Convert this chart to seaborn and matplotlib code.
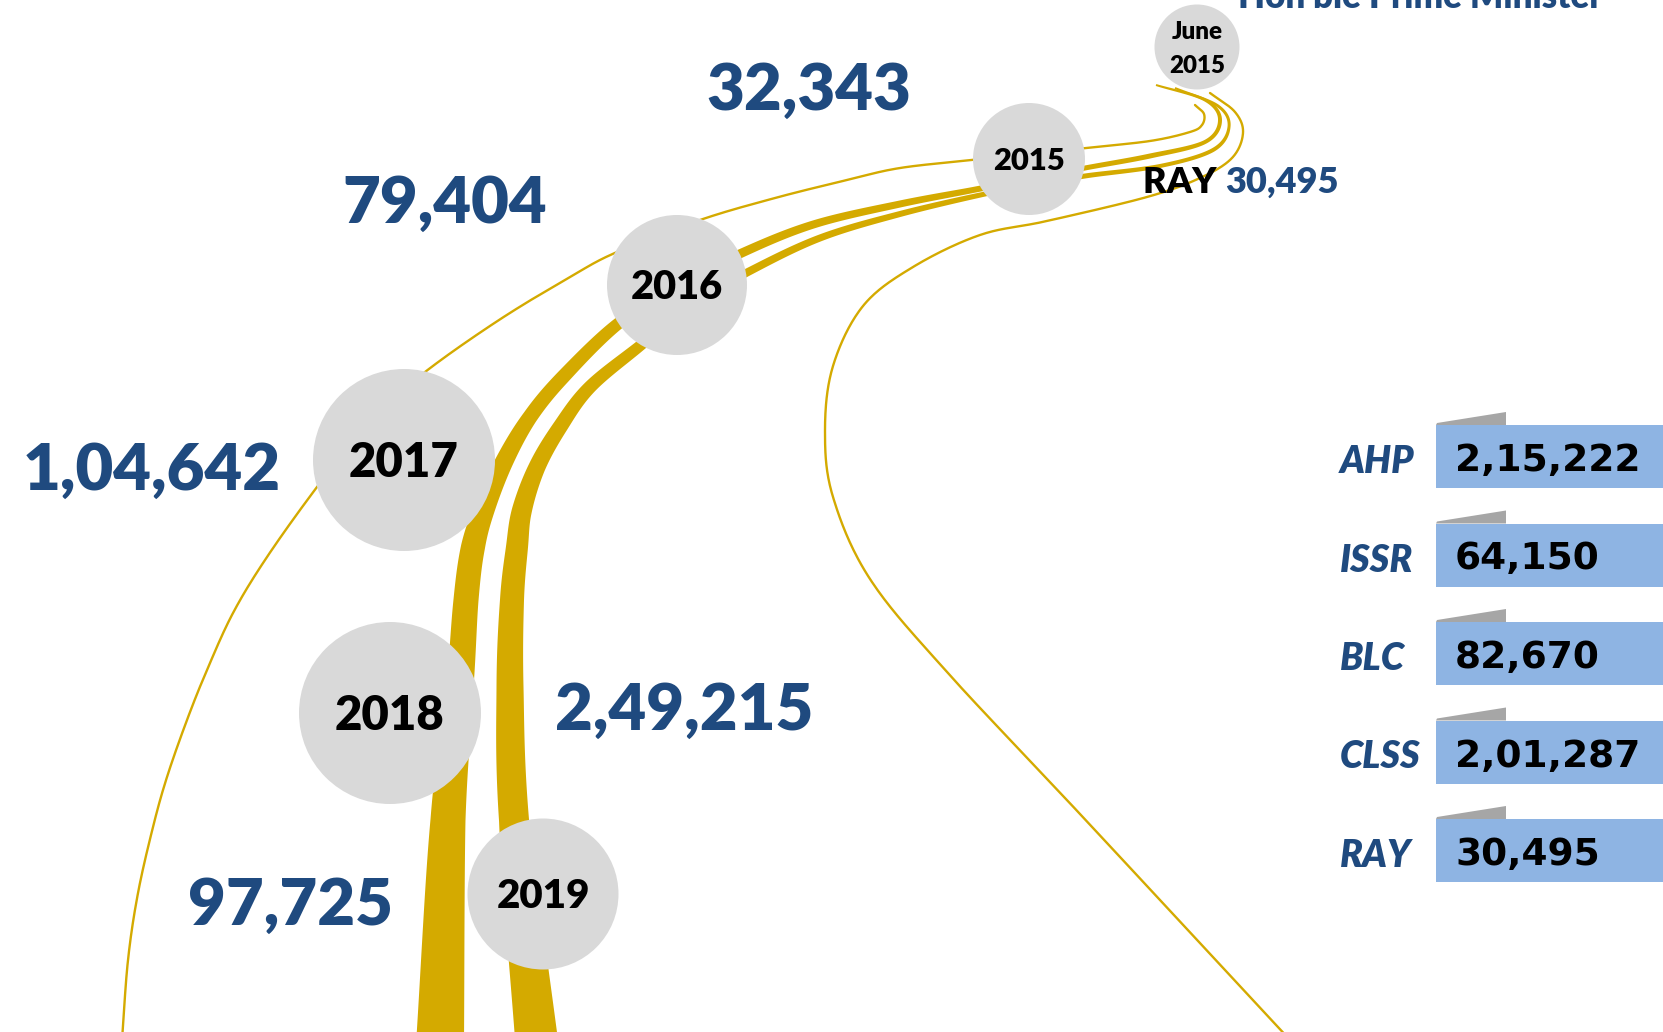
import numpy as np
import pandas as pd
import matplotlib
matplotlib.use("Agg")
import matplotlib.pyplot as plt
import seaborn as sns

years = ["June\n2015", "2015", "2016", "2017", "2018", "2019"]
year_values = [None, 32343, 79404, 104642, 249215, 97725]
schemes = ["AHP", "ISSR", "BLC", "CLSS", "RAY"]
scheme_values = [215222, 64150, 82670, 201287, 30495]
ray_start = 30495
title = "Hon'ble Prime Minister"

# ---- layout (pixel space of a 1663x1032 canvas) ----
circle_x = [1197, 1029, 677, 404, 390, 543]
circle_y = [47, 159, 285, 460, 713, 894]
circle_r = [42.5, 56, 70, 91, 91, 75.5]
year_fs = [17.4, 22.3, 28.6, 34, 34, 29]
value_x = [None, 809, 445, 152, 684, 290]
value_base = [None, 110, 223, 490, 730, 925]

BLUE = "#1F4A7F"
GOLD = "#D4AA00"
CIRCLE = "#D9D9D9"
BOX = "#8EB4E3"
TAB = "#A6A6A6"
WEIGHT = "heavy"

# road guide lines (decorative)
band1 = [(1156, 85), (1205, 100), (1220, 120), (1205, 142), (1150, 156), (1085, 168),
         (1029, 179), (973, 190), (900, 204), (815, 224), (744, 252), (680, 285),
         (619, 323), (563, 377), (530, 417), (505, 460), (485, 507), (473, 547),
         (466, 600), (460, 687), (448, 820), (440, 1045)]
band1_w = [2, 3, 4, 4, 5, 5, 6, 6, 7, 8, 9, 10, 12, 14, 15, 18, 21, 24, 25, 27, 35, 48]
band2 = [(1175, 88), (1218, 106), (1229, 127), (1213, 150), (1160, 166), (1085, 176),
         (1035, 185), (985, 194), (900, 214), (820, 238), (748, 272), (690, 305),
         (641, 345), (590, 387), (560, 427), (537, 467), (522, 510), (517, 547),
         (512, 600), (510, 687), (514, 820), (537, 1045)]
band2_w = [2, 3, 3, 4, 4, 5, 5, 5, 6, 7, 8, 10, 11, 13, 15, 17, 20, 22, 24, 27, 30, 43]
line1 = [(1195, 105), (1204, 114), (1202, 125), (1190, 132), (1150, 141), (1085, 148),
         (1029, 154), (972, 160), (900, 168), (847, 180), (775, 198), (700, 220),
         (617, 252), (570, 277), (499, 320), (425, 372), (370, 420), (317, 487),
         (267, 557), (233, 613), (207, 670), (187, 720), (167, 777), (153, 827),
         (138, 893), (128, 960), (122, 1040)]
line2 = [(1210, 93), (1235, 112), (1243, 133), (1232, 158), (1200, 178), (1147, 197),
         (1047, 221), (980, 235), (913, 267), (863, 306), (833, 366), (825, 431),
         (833, 497), (870, 579), (947, 672), (1080, 814), (1290, 1040)]


def indian(n):
    s = str(n)
    if len(s) <= 3:
        return s
    head, tail = s[:-3], s[-3:]
    parts = []
    while len(head) > 2:
        parts.insert(0, head[-2:])
        head = head[:-2]
    if head:
        parts.insert(0, head)
    return ",".join(parts + [tail])


def spline(pts, widths=None, n=30):
    P = np.array(pts, float)
    P = np.vstack([2 * P[0] - P[1], P, 2 * P[-1] - P[-2]])
    t = np.linspace(0, 1, n, endpoint=False)[:, None]
    out, ws = [], []
    for i in range(1, len(P) - 2):
        p0, p1, p2, p3 = P[i - 1], P[i], P[i + 1], P[i + 2]
        seg = 0.5 * (2 * p1 + (-p0 + p2) * t + (2 * p0 - 5 * p1 + 4 * p2 - p3) * t ** 2
                     + (-p0 + 3 * p1 - 3 * p2 + p3) * t ** 3)
        out.append(seg)
        if widths is not None:
            ws.append(np.linspace(widths[i - 1], widths[i], n, endpoint=False))
    out.append(P[-2][None, :])
    if widths is not None:
        ws.append([widths[-1]])
        return np.vstack(out), np.concatenate(ws)
    return np.vstack(out)


def band_polygon(pts, widths):
    c, w = spline(pts, widths)
    d = np.gradient(c, axis=0)
    nrm = np.stack([-d[:, 1], d[:, 0]], axis=1)
    nrm /= np.linalg.norm(nrm, axis=1)[:, None]
    left = c + nrm * w[:, None] / 2
    right = c - nrm * w[:, None] / 2
    return np.vstack([left, right[::-1]])


sns.set_theme(style="white")
plt.rcParams["font.family"] = ["Lato", "DejaVu Sans"]

fig = plt.figure(figsize=(16.63, 10.32), dpi=100, facecolor="white")
ax = fig.add_axes([0, 0, 1, 1])

px2pt = 72 / 100

# roads
for pts, w in [(band1, band1_w), (band2, band2_w)]:
    poly = band_polygon(pts, w)
    ax.fill(poly[:, 0], poly[:, 1], color=GOLD, lw=0, zorder=1)
for pts in [line1, line2]:
    c = spline(pts)
    sns.lineplot(x=c[:, 0], y=c[:, 1], sort=False, estimator=None, color=GOLD,
                 linewidth=1.7, ax=ax, zorder=1)

# year circles
circ = pd.DataFrame({"x": circle_x, "y": circle_y, "r": circle_r})
sns.scatterplot(data=circ, x="x", y="y", s=(2 * circ["r"] * px2pt) ** 2,
                color=CIRCLE, linewidth=0, ax=ax, zorder=3, legend=False)

for i, yr in enumerate(years):
    fs = year_fs[i]
    em = fs / px2pt
    if "\n" in yr:
        a, b = yr.split("\n")
        ax.text(circle_x[i], circle_y[i] - 0.32 * em, a, ha="center", va="baseline",
                fontsize=fs, fontweight=WEIGHT, color="black", zorder=4)
        ax.text(circle_x[i], circle_y[i] + 1.08 * em, b, ha="center", va="baseline",
                fontsize=fs, fontweight=WEIGHT, color="black", zorder=4)
    else:
        ax.text(circle_x[i], circle_y[i] + 0.36 * em, yr, ha="center", va="baseline",
                fontsize=fs, fontweight=WEIGHT, color="black", zorder=4)
    if year_values[i] is not None:
        ax.text(value_x[i], value_base[i], indian(year_values[i]), ha="center",
                va="baseline", fontsize=47, fontweight=WEIGHT, color=BLUE, zorder=4)

# RAY start label
t = ax.text(1143, 193, "RAY ", ha="left", va="baseline", fontsize=26,
            fontweight=WEIGHT, color="black", zorder=4)
fig.canvas.draw()
bb = t.get_window_extent()
ax.text(1143 + bb.width, 193, indian(ray_start), ha="left", va="baseline",
        fontsize=26, fontweight=WEIGHT, color=BLUE, zorder=4)

# title (cut at top edge)
ax.text(1238, 8, title, ha="left", va="baseline", fontsize=25,
        fontweight=WEIGHT, color=BLUE, zorder=4)

# right panel
for i, (name, val) in enumerate(zip(schemes, scheme_values)):
    top = 425 + i * 98.5
    ax.fill([1436, 1663, 1663, 1436], [top, top, top + 63, top + 63],
            color=BOX, lw=0, zorder=2)
    ax.fill([1436, 1437, 1506, 1506], [top, top - 2, top - 13, top],
            color=TAB, lw=0, zorder=2)
    ax.text(1340, top + 48, name, ha="left", va="baseline", fontsize=27,
            fontweight=WEIGHT, fontstyle="italic", color=BLUE, zorder=4)
    ax.text(1455, top + 46, indian(val), ha="left", va="baseline", fontsize=27,
            fontweight="bold", family="DejaVu Sans", color="black", zorder=4)

ax.set_xlim(0, 1663)
ax.set_ylim(1032, 0)
ax.axis("off")

fig.savefig("out.png", dpi=100, facecolor="white")
